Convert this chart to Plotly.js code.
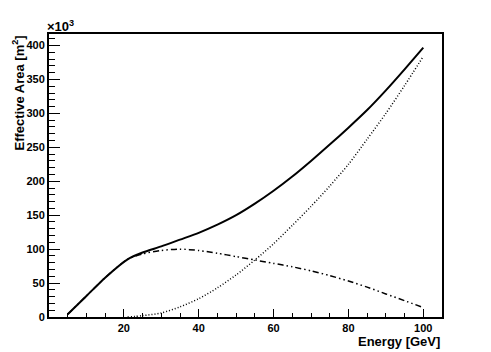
<!DOCTYPE html>
<html>
<head>
<meta charset="utf-8">
<script src="https://cdn.plot.ly/plotly-3.0.1.min.js"></script>
<style>
  html, body { margin: 0; padding: 0; background: #fff; }
  #chart { width: 491px; height: 352px; }
</style>
</head>
<body>
<div id="chart"></div>
<script>
// Energy [GeV]
const energy = [5, 10, 15, 21, 25, 30, 35, 40, 45, 50, 55, 60, 65, 70, 75, 80, 85, 90, 95, 100];
// effective area, units of 10^3 m^2
const totalArea = [4, 31, 58, 85, 95, 104, 114, 124, 136, 150, 167, 186, 207, 230, 254, 279, 305, 334, 365, 397];
const lowArea = [4, 31, 58, 85, 93, 98, 100, 98, 94, 89, 84, 79, 74, 68, 61, 53, 44, 34, 24, 14];
const highEnergy = [21, 25, 30, 35, 40, 45, 50, 55, 60, 65, 70, 75, 80, 85, 90, 95, 100];
const highArea = [0, 2, 6, 15, 27, 43, 62, 84, 108, 135, 163, 193, 225, 262, 300, 341, 384];

const titleFont = { family: 'Liberation Sans, Arial, sans-serif', size: 13, color: '#000', weight: 'bold' };
const tickFont = { family: 'Liberation Sans, Arial, sans-serif', size: 11, color: '#000', weight: 'bold' };

const traces = [
    {
        x: highEnergy, y: highArea, type: 'scatter', mode: 'lines',
        line: { color: '#000', width: 1.5, dash: '1px,2px', shape: 'spline', smoothing: 0.8 }
    },
    {
        x: energy, y: lowArea, type: 'scatter', mode: 'lines',
        line: { color: '#000', width: 1.5, dash: '6px,3px,1.5px,3px,1.5px,3px', shape: 'spline', smoothing: 0.7 }
    },
    {
        x: energy, y: totalArea, type: 'scatter', mode: 'lines',
        line: { color: '#000', width: 2, shape: 'spline', smoothing: 0.6 }
    }
];

const layout = {
    width: 491,
    height: 352,
    margin: { l: 49, r: 49, t: 34, b: 35 },
    paper_bgcolor: '#fff',
    plot_bgcolor: '#fff',
    showlegend: false,
    font: titleFont,
    xaxis: {
        range: [0, 105],
        tickvals: [20, 40, 60, 80, 100],
        ticks: 'inside', ticklen: 8, tickwidth: 1, tickcolor: '#000',
        minor: { dtick: 5, tick0: 0, ticks: 'inside', ticklen: 4, tickcolor: '#000', showgrid: false },
        showline: true, linecolor: '#000', linewidth: 2, mirror: true,
        showgrid: false, zeroline: false,
        tickfont: tickFont
    },
    yaxis: {
        range: [0, 417],
        dtick: 50, tick0: 0,
        ticks: 'inside', ticklen: 11, tickwidth: 1, tickcolor: '#000',
        minor: { dtick: 10, tick0: 0, ticks: 'inside', ticklen: 6, tickcolor: '#000', showgrid: false },
        showline: true, linecolor: '#000', linewidth: 2, mirror: true,
        showgrid: false, zeroline: false,
        tickfont: tickFont
    },
    annotations: [
        {
            text: 'Energy [GeV]', xref: 'paper', yref: 'paper',
            x: 1, y: 0, xanchor: 'right', yanchor: 'top', yshift: -15,
            showarrow: false, font: titleFont
        },
        {
            text: 'Effective Area [m<sup>2</sup>]', xref: 'paper', yref: 'paper',
            x: 0, y: 1, xanchor: 'center', yanchor: 'top', xshift: -31,
            textangle: -90, showarrow: false, font: titleFont
        },
        {
            text: '×10<sup>3</sup>', xref: 'paper', yref: 'paper',
            x: 0, y: 1, xanchor: 'left', yanchor: 'bottom', xshift: -4, yshift: -2,
            showarrow: false, font: titleFont
        }
    ]
};

Plotly.newPlot('chart', traces, layout, { displayModeBar: false, staticPlot: true });
</script>
</body>
</html>
